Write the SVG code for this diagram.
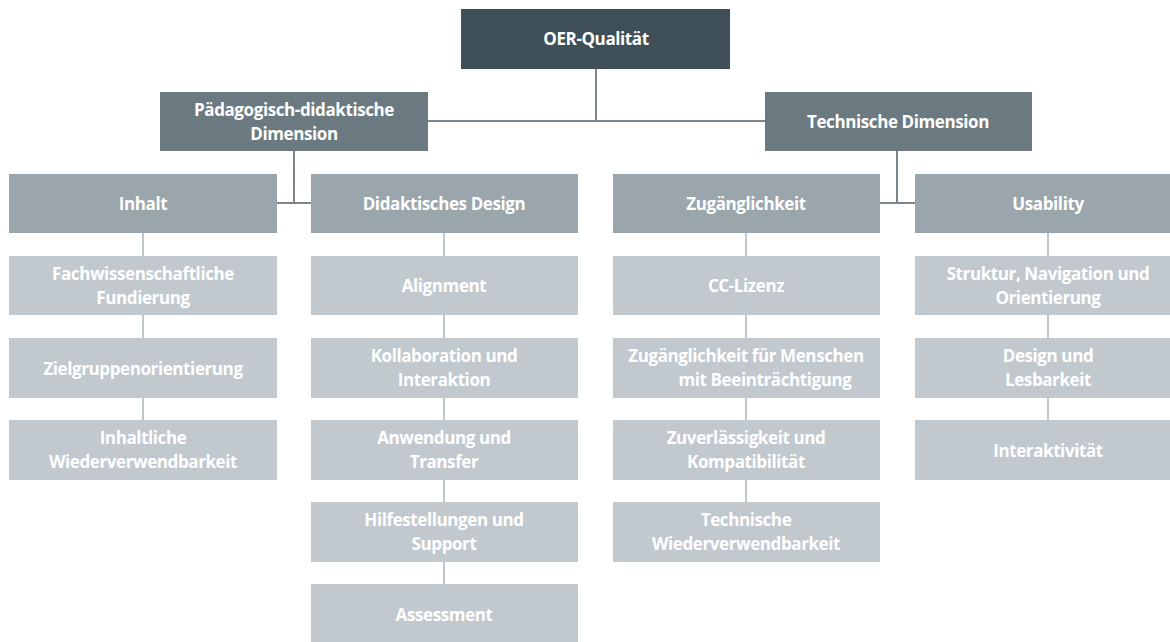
<svg xmlns="http://www.w3.org/2000/svg" width="1170" height="642" viewBox="0 0 1170 642">
<style>
text{font-family:"Open Sans","Liberation Sans",sans-serif;font-weight:700;font-size:17px;fill:#fff;text-anchor:middle;letter-spacing:-0.4px}
.l0{fill:#3e4f57}
.l1{fill:#6b7a80}
.l2{fill:#9aa6ac}
.l3{fill:#c1c9cf}
.c1{stroke:#7b878c;stroke-width:2;fill:none}
.c2{stroke:#bfc7cc;stroke-width:2;fill:none}
</style>
<rect width="1170" height="642" fill="#fff"/>
<g id="connectors">
<path class="c1" d="M596 69V121M428 121H765"/>
<path class="c1" d="M294 151V203M277 203H311"/>
<path class="c1" d="M897 151V203M880 203H915"/>
<path class="c2" d="M143 233V256M143 315V338M143 398V420"/>
<path class="c2" d="M444 233V256M444 315V338M444 398V420M444 480V502M444 562V584"/>
<path class="c2" d="M746 233V256M746 315V338M746 398V420M746 480V502"/>
<path class="c2" d="M1048 233V256M1048 315V338M1048 398V420"/>
</g>
<g id="n-oer"><rect class="l0" x="461" y="9" width="269" height="60"/><text x="596" y="45">OER-Qualität</text></g>
<g id="n-paed"><rect class="l1" x="160" y="92" width="268" height="59"/><text x="294" y="116">Pädagogisch-didaktische</text><text x="294" y="140">Dimension</text></g>
<g id="n-tech"><rect class="l1" x="765" y="92" width="267" height="59"/><text x="898" y="128">Technische Dimension</text></g>
<g id="n-inhalt"><rect class="l2" x="9" y="174" width="268" height="59"/><text x="143" y="210">Inhalt</text></g>
<g id="n-dd"><rect class="l2" x="311" y="174" width="267" height="59"/><text x="444" y="210">Didaktisches Design</text></g>
<g id="n-zug"><rect class="l2" x="613" y="174" width="267" height="59"/><text x="746" y="210">Zugänglichkeit</text></g>
<g id="n-usa"><rect class="l2" x="915" y="174" width="267" height="59"/><text x="1048" y="210">Usability</text></g>
<g id="n-fach"><rect class="l3" x="9" y="256" width="268" height="59"/><text x="143" y="280">Fachwissenschaftliche</text><text x="143" y="304">Fundierung</text></g>
<g id="n-ziel"><rect class="l3" x="9" y="338" width="268" height="60"/><text x="143" y="375">Zielgruppenorientierung</text></g>
<g id="n-inhw"><rect class="l3" x="9" y="420" width="268" height="60"/><text x="143" y="444">Inhaltliche</text><text x="143" y="468">Wiederverwendbarkeit</text></g>
<g id="n-align"><rect class="l3" x="311" y="256" width="267" height="59"/><text x="444" y="292">Alignment</text></g>
<g id="n-koll"><rect class="l3" x="311" y="338" width="267" height="60"/><text x="444" y="362">Kollaboration und</text><text x="444" y="386">Interaktion</text></g>
<g id="n-anw"><rect class="l3" x="311" y="420" width="267" height="60"/><text x="444" y="444">Anwendung und</text><text x="444" y="468">Transfer</text></g>
<g id="n-hilf"><rect class="l3" x="311" y="502" width="267" height="60"/><text x="444" y="526">Hilfestellungen und</text><text x="444" y="550">Support</text></g>
<g id="n-ass"><rect class="l3" x="311" y="584" width="267" height="60"/><text x="444" y="621">Assessment</text></g>
<g id="n-cc"><rect class="l3" x="613" y="256" width="267" height="59"/><text x="746" y="292">CC-Lizenz</text></g>
<g id="n-zfm"><rect class="l3" x="613" y="338" width="267" height="60"/><text x="746" y="362">Zugänglichkeit für Menschen</text><text x="765" y="386">mit Beeinträchtigung</text></g>
<g id="n-zuv"><rect class="l3" x="613" y="420" width="267" height="60"/><text x="746" y="444">Zuverlässigkeit und</text><text x="746" y="468">Kompatibilität</text></g>
<g id="n-techw"><rect class="l3" x="613" y="502" width="267" height="60"/><text x="746" y="526">Technische</text><text x="746" y="550">Wiederverwendbarkeit</text></g>
<g id="n-str"><rect class="l3" x="915" y="256" width="267" height="59"/><text x="1048" y="280">Struktur, Navigation und</text><text x="1048" y="304">Orientierung</text></g>
<g id="n-des"><rect class="l3" x="915" y="338" width="267" height="60"/><text x="1048" y="362">Design und</text><text x="1048" y="386">Lesbarkeit</text></g>
<g id="n-int"><rect class="l3" x="915" y="420" width="267" height="60"/><text x="1048" y="457">Interaktivität</text></g>
</svg>
